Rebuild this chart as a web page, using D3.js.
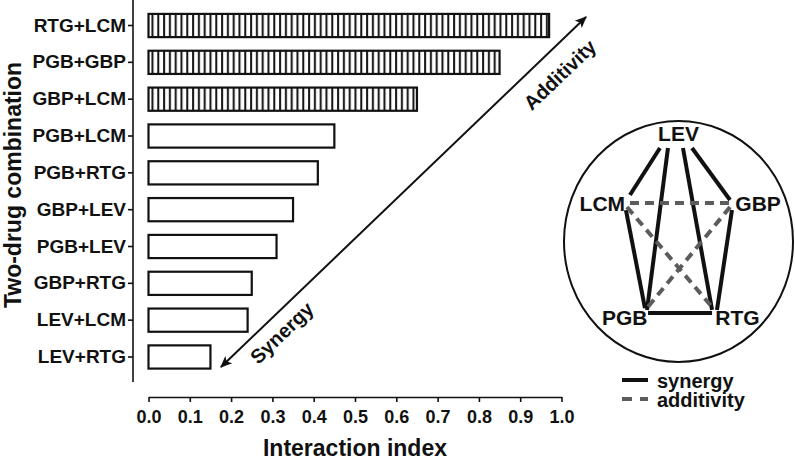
<!DOCTYPE html>
<meta charset="utf-8">
<body style="margin:0;background:#fff">
<style>
  text { font-family: "Liberation Sans", Arial, sans-serif; font-weight: bold; fill: #111; }
  .axis path, .axis line { stroke: #111; stroke-width: 1.6px; }
  .axis text { fill: #111; }
  .bar { stroke: #111; stroke-width: 2.2px; }
  .net-line { stroke-width: 4px; stroke-linecap: butt; }
</style>
<svg width="795" height="461"></svg>
<script src="https://d3js.org/d3.v7.min.js"></script>
<script>

// combinations, top to bottom
var combos = ["RTG+LCM", "PGB+GBP", "GBP+LCM", "PGB+LCM", "PGB+RTG",
              "GBP+LEV", "PGB+LEV", "GBP+RTG", "LEV+LCM", "LEV+RTG"];
var index  = [0.97, 0.85, 0.65, 0.45, 0.41, 0.35, 0.31, 0.25, 0.24, 0.15];
var effect = ["add", "add", "add", "syn", "syn", "syn", "syn", "syn", "syn", "syn"];
var xTicks = [0, 0.1, 0.2, 0.3, 0.4, 0.5, 0.6, 0.7, 0.8, 0.9, 1.0];

// network inset (positions in unit circle space)
var drugs  = ["LEV", "LCM", "GBP", "PGB", "RTG"];
var drugU  = [0.000, -0.665, 0.695, -0.470, 0.515];
var drugV  = [-0.830, -0.255, -0.255, 0.697, 0.697];
// edge ends in unit space
var edges = [
  {a: "LEV", b: "LCM", type: "syn", u1: -0.162, v1: -0.776, u2: -0.424, v2: -0.386},
  {a: "LEV", b: "PGB", type: "syn", u1: -0.092, v1: -0.776, u2: -0.275, v2: 0.568},
  {a: "LEV", b: "RTG", type: "syn", u1: 0.039, v1: -0.776, u2: 0.293, v2: 0.568},
  {a: "LEV", b: "GBP", type: "syn", u1: 0.118, v1: -0.776, u2: 0.450, v2: -0.344},
  {a: "LCM", b: "PGB", type: "syn", u1: -0.459, v1: -0.261, u2: -0.293, v2: 0.552},
  {a: "GBP", b: "RTG", type: "syn", u1: 0.467, v1: -0.261, u2: 0.336, v2: 0.568},
  {a: "PGB", b: "RTG", type: "syn", u1: -0.266, v1: 0.593, u2: 0.293, v2: 0.593},
  {a: "LCM", b: "GBP", type: "add", u1: -0.424, v1: -0.320, u2: 0.476, v2: -0.320},
  {a: "LCM", b: "RTG", type: "add", u1: -0.450, v1: -0.286, u2: 0.293, v2: 0.544},
  {a: "GBP", b: "PGB", type: "add", u1: 0.450, v1: -0.286, u2: -0.275, v2: 0.552}
];
var legendKeys = ["synergy", "additivity"];

var svg = d3.select("svg");
var defs = svg.append("defs");

var hatch = defs.append("pattern")
    .attr("id", "hatch")
    .attr("patternUnits", "userSpaceOnUse")
    .attr("width", 5.8).attr("height", 10)
    .attr("x", 148.5);
hatch.append("rect").attr("width", 5.8).attr("height", 10).attr("fill", "#fff");
hatch.append("line").attr("x1", 4).attr("x2", 4).attr("y1", 0).attr("y2", 10)
    .attr("stroke", "#111").attr("stroke-width", 2);

defs.append("marker")
    .attr("id", "head")
    .attr("viewBox", "0 0 10 10")
    .attr("refX", 9).attr("refY", 5)
    .attr("markerWidth", 6).attr("markerHeight", 6)
    .attr("markerUnits", "strokeWidth")
    .attr("orient", "auto-start-reverse")
  .append("path")
    .attr("d", "M0,0.8 L10,5 L0,9.2 L2.5,5 Z")
    .attr("fill", "#111");

var x = d3.scaleLinear().domain([0, 1]).range([148.5, 561.5]);
var y = d3.scaleBand().domain(combos).range([7.1, 375.4])
    .paddingInner(0.37).paddingOuter(0.185);

// bars
svg.append("g").selectAll("rect")
    .data(combos)
  .enter().append("rect")
    .attr("class", "bar")
    .attr("x", x(0))
    .attr("y", function(d) { return y(d); })
    .attr("width", function(d, i) { return x(index[i]) - x(0); })
    .attr("height", y.bandwidth())
    .attr("fill", function(d, i) { return effect[i] == "add" ? "url(#hatch)" : "#fff"; });

// y axis
var yAxis = svg.append("g")
    .attr("class", "axis")
    .attr("transform", "translate(133,0)")
    .call(d3.axisLeft(y).tickSize(5).tickSizeOuter(0).tickPadding(2));
yAxis.select(".domain").remove();
yAxis.append("line").attr("x1", 0).attr("x2", 0).attr("y1", 0).attr("y2", 382);
yAxis.selectAll("text").style("font-size", "19px");

// x axis
var xAxis = svg.append("g")
    .attr("class", "axis")
    .attr("transform", "translate(0,397)")
    .call(d3.axisBottom(x).tickValues(xTicks).tickFormat(d3.format(".1f"))
      .tickSize(5).tickSizeOuter(0).tickPadding(8));
xAxis.selectAll("text").style("font-size", "18px");

svg.append("text")
    .attr("x", 355).attr("y", 456)
    .attr("text-anchor", "middle")
    .style("font-size", "23px")
    .text("Interaction index");

svg.append("text")
    .attr("transform", "translate(21,185) rotate(-90)")
    .attr("text-anchor", "middle")
    .style("font-size", "23px")
    .text("Two-drug combination");

// diagonal arrow
var ax1 = 221, ay1 = 367, ax2 = 586, ay2 = 17;
svg.append("line")
    .attr("x1", ax1).attr("y1", ay1).attr("x2", ax2).attr("y2", ay2)
    .attr("stroke", "#111").attr("stroke-width", 2)
    .attr("marker-start", "url(#head)")
    .attr("marker-end", "url(#head)");
var ang = Math.atan2(ay2 - ay1, ax2 - ax1) * 180 / Math.PI;

svg.append("text")
    .attr("transform", "translate(561,76) rotate(" + ang + ")")
    .attr("text-anchor", "middle").attr("dominant-baseline", "middle")
    .style("font-size", "20px")
    .text("Additivity");
svg.append("text")
    .attr("transform", "translate(283,334) rotate(" + ang + ")")
    .attr("text-anchor", "middle").attr("dominant-baseline", "middle")
    .style("font-size", "20px")
    .text("Synergy");

// network inset
var cx = 678.5, cy = 241.5, rx = 114.5, ry = 120.5;
var iu = d3.scaleLinear().domain([-1, 1]).range([cx - rx, cx + rx]);
var iv = d3.scaleLinear().domain([-1, 1]).range([cy - ry, cy + ry]);
var lineColor = {syn: "#111", add: "#5c5c5c"};

var net = svg.append("g");
net.append("ellipse")
    .attr("cx", iu(0)).attr("cy", iv(0)).attr("rx", rx).attr("ry", ry)
    .attr("fill", "none").attr("stroke", "#111").attr("stroke-width", 2);

net.selectAll(".net-line")
    .data(edges)
  .enter().append("line")
    .attr("class", "net-line")
    .attr("x1", function(d) { return iu(d.u1); })
    .attr("y1", function(d) { return iv(d.v1); })
    .attr("x2", function(d) { return iu(d.u2); })
    .attr("y2", function(d) { return iv(d.v2); })
    .attr("stroke", function(d) { return lineColor[d.type]; })
    .attr("stroke-width", function(d) { return d.type == "add" ? 3.6 : 4; })
    .attr("stroke-dasharray", function(d) { return d.type == "add" ? "9,6" : null; });

net.selectAll(".drug")
    .data(drugs)
  .enter().append("text")
    .attr("class", "drug")
    .attr("x", function(d, i) { return iu(drugU[i]); })
    .attr("y", function(d, i) { return iv(drugV[i]); })
    .attr("text-anchor", "middle")
    .style("font-size", "21px")
    .text(function(d) { return d; });

// legend
var leg = svg.append("g").selectAll("g")
    .data(legendKeys)
  .enter().append("g")
    .attr("transform", function(d, i) { return "translate(622," + (380 + i * 19) + ")"; });
leg.append("line")
    .attr("x1", 0).attr("x2", 26)
    .attr("stroke", function(d, i) { return i == 0 ? lineColor.syn : lineColor.add; })
    .attr("stroke-width", 4)
    .attr("stroke-dasharray", function(d, i) { return i == 0 ? null : "10,8"; });
leg.append("text")
    .attr("x", 35).attr("y", 7.5)
    .style("font-size", "20px")
    .text(function(d) { return d; });

</script>
</body>
